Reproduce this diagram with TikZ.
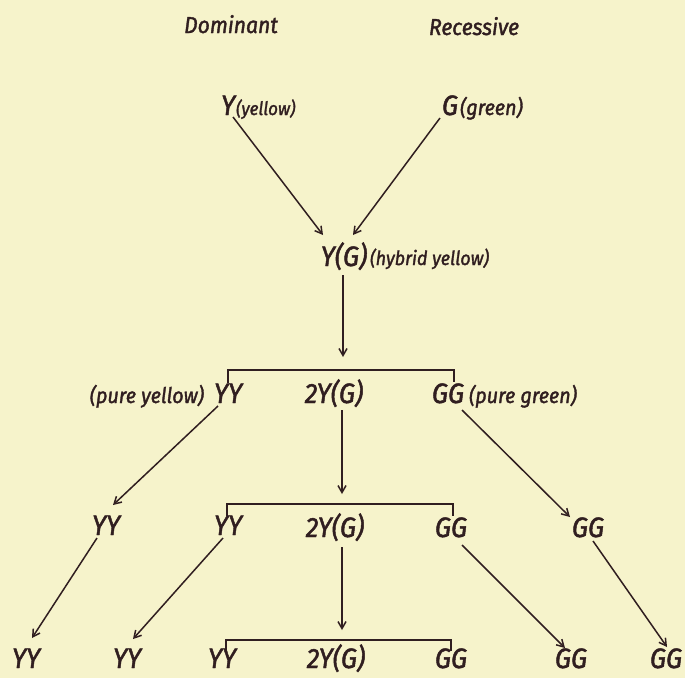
\documentclass[tikz,border=0pt]{standalone}
\usepackage{fontspec}
\setmainfont{Fira Sans}
\newfontfamily\hand{Fira Sans}[FakeStretch=0.92, FakeBold=1.6]
\usetikzlibrary{arrows.meta,calc}
\definecolor{paper}{RGB}{246,243,203}
\definecolor{ink}{RGB}{48,30,32}
\begin{document}
\begin{tikzpicture}[x=1pt,y=-1pt,
  every node/.style={inner sep=0pt, outer sep=0pt, text=ink},
  geno/.style={anchor=base, font=\hand\itshape\fontsize{28}{30}\selectfont},
  note/.style={font=\hand\itshape\fontsize{21}{23}\selectfont},
  head/.style={anchor=base, font=\hand\itshape\fontsize{23}{25}\selectfont},
  arr/.style={draw=ink, line width=1.5pt, -{Straight Barb[length=7pt,width=8pt]}},
  brk/.style={draw=ink, line width=1.5pt}]
\fill[paper] (0,0) rectangle (685,678);
\useasboundingbox (0,0) rectangle (685,678);

% headings
\node[head] (dom) at (231,33) {Dominant};
\node[head] (rec) at (474,35) {Recessive};

% parents
\node[geno] (Yp) at (228,115) {Y};
\node[note, anchor=base west, font=\hand\itshape\fontsize{18.5}{20}\selectfont] (lYp) at (236,115) {(yellow)};
\node[geno] (Gp) at (450,115) {G};
\node[note, anchor=base west, font=\hand\itshape\fontsize{21.5}{23}\selectfont] (lGp) at (460,115) {(green)};

% hybrid
\node[geno] (YG0) at (344,266) {Y(G)};
\node[note, anchor=base west, font=\hand\itshape\fontsize{19.5}{21}\selectfont] (lYG0) at (370,265) {(hybrid yellow)};

% row 2
\node[geno] (YY2) at (228,403) {YY};
\node[note, anchor=base east, font=\hand\itshape\fontsize{21.5}{23}\selectfont] (lYY2) at (204,403) {(pure yellow)};
\node[geno] (H2) at (334,403) {2Y(G)};
\node[geno] (GG2) at (448,403) {GG};
\node[note, anchor=base west, font=\hand\itshape\fontsize{21.5}{23}\selectfont] (lGG2) at (469,403) {(pure green)};

% row 3
\node[geno] (YY3a) at (106,535) {YY};
\node[geno] (YY3b) at (228,535) {YY};
\node[geno] (H3) at (335,537) {2Y(G)};
\node[geno] (GG3a) at (451,537) {GG};
\node[geno] (GG3b) at (588,537) {GG};

% row 4
\node[geno] (YY4a) at (26,668) {YY};
\node[geno] (YY4b) at (127,668) {YY};
\node[geno] (YY4c) at (222,668) {YY};
\node[geno] (H4) at (336,668) {2Y(G)};
\node[geno] (GG4a) at (451,668) {GG};
\node[geno] (GG4b) at (571,668) {GG};
\node[geno] (GG4c) at (666,668) {GG};

% brackets
\coordinate (k1) at (343,370); \coordinate (k1l) at (228,370); \coordinate (k1r) at (454,370);
\coordinate (k2) at (342,504); \coordinate (k2l) at (227,504); \coordinate (k2r) at (453,504);
\coordinate (k3) at (342,640); \coordinate (k3l) at (226,640); \coordinate (k3r) at (451,640);
\draw[brk] ($(k1l)+(0,13)$) -- (k1l) -- (k1r) -- ++(0,12);
\draw[brk] ($(k2l)+(0,12)$) -- (k2l) -- (k2r) -- ++(0,12);
\draw[brk] ($(k3l)+(0,11)$) -- (k3l) -- (k3r) -- ++(0,11);

% arrows
\draw[arr] ($(Yp.base)+(5,2)$) -- ($(YG0.base)+(-21,-31)$);
\draw[arr] ($(Gp.base)+(-10,3)$) -- ($(YG0.base)+(9,-31)$);
\draw[arr] ($(YG0.base)+(-1,9)$) -- ($(k1)+(0,-13)$);
\draw[arr] ($(YY2.base)+(-10,3)$) -- ($(YY3a.base)+(7,-30)$);
\draw[arr] ($(H2.base)+(8,7)$) -- ($(k2)+(0,-10)$);
\draw[arr] ($(GG2.base)+(14,7)$) -- ($(GG3b.base)+(-18,-20)$);
\draw[arr] ($(YY3a.base)+(-9,3)$) -- ($(YY4a.base)+(6,-30)$);
\draw[arr] ($(YY3b.base)+(-5,3)$) -- ($(YY4b.base)+(6,-29)$);
\draw[arr] ($(H3.base)+(7,10)$) -- ($(k3)+(0,-10)$);
\draw[arr] ($(GG3a.base)+(11,8)$) -- ($(GG4b.base)+(-6,-20)$);
\draw[arr] ($(GG3b.base)+(5,4)$) -- ($(GG4c.base)+(1,-21)$);
\end{tikzpicture}
\end{document}
